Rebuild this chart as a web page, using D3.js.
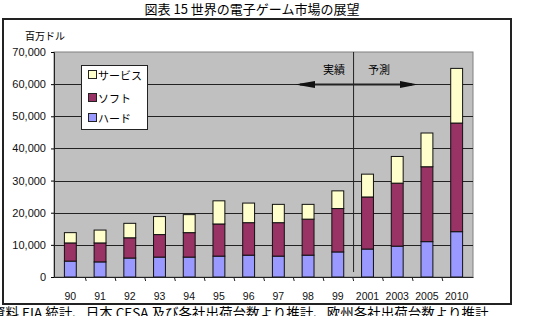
<!DOCTYPE html>
<html>
<head>
<meta charset="utf-8">
<script src="https://cdn.jsdelivr.net/npm/d3@7"></script>
<style>
  body { margin: 0; background: #fff; }
  svg { display: block; }
</style>
</head>
<body>
<script>
'use strict';

// data (million USD)
const years = ['90', '91', '92', '93', '94', '95', '96', '97', '98', '99', '2001', '2003', '2005', '2010'];
const hard = [4950, 4700, 5900, 6200, 6200, 6500, 6800, 6500, 6800, 7800, 8700, 9600, 11000, 14100];
const soft = [5650, 5900, 6300, 7000, 7600, 10000, 10100, 10400, 11200, 13500, 16200, 19600, 23300, 33800];
const service = [3200, 4000, 4500, 5600, 5600, 7200, 6100, 5700, 4600, 5500, 7100, 8300, 10500, 17000];
const yTicks = [0, 10000, 20000, 30000, 40000, 50000, 60000, 70000];
const seriesNames = {service: 'サービス', soft: 'ソフト', hard: 'ハード'};
const colors = {hard: '#9999ff', soft: '#993366', service: '#ffffcc'};

const W = 533, H = 316;
const plot = {left: 54, right: 473, top: 54, bottom: 277};
const jp = '"Noto Sans CJK JP", sans-serif';
const num = '"Liberation Sans", Arial, sans-serif';

const svg = d3.select('body').append('svg')
    .attr('width', W)
    .attr('height', H);

// title
svg.append('text')
    .attr('x', 252).attr('y', 14)
    .attr('text-anchor', 'middle')
    .style('font-family', jp).style('font-size', '13px')
    .text('図表 15 世界の電子ゲーム市場の展望');

// outer frame
svg.append('rect')
    .attr('x', 3).attr('y', 19)
    .attr('width', 508).attr('height', 285)
    .attr('fill', '#fff').attr('stroke', '#222').attr('stroke-width', 2);

const x = d3.scaleBand()
    .domain(years)
    .range([plot.left, plot.right])
    .paddingInner(0.6)
    .paddingOuter(0.35);

const y = d3.scaleLinear()
    .domain([0, 70000])
    .range([plot.bottom, plot.top - 2]);

// plot area
svg.append('rect')
    .attr('x', plot.left).attr('y', y(70000))
    .attr('width', plot.right - plot.left)
    .attr('height', plot.bottom - y(70000))
    .attr('fill', '#c0c0c0').attr('stroke', '#808080');

// grid lines
svg.append('g')
    .selectAll('line')
    .data(yTicks.slice(1, -1))
    .join('line')
    .attr('x1', plot.left).attr('x2', plot.right)
    .attr('y1', d => Math.round(y(d)) + 0.5)
    .attr('y2', d => Math.round(y(d)) + 0.5)
    .attr('stroke', '#222');

// y axis
const yAxis = svg.append('g')
    .attr('transform', `translate(${plot.left},0)`)
    .call(d3.axisLeft(y).tickValues(yTicks).tickSize(3).tickPadding(5)
        .tickFormat(d3.format(',')));
yAxis.select('.domain').attr('stroke', '#222');
yAxis.selectAll('text')
    .style('font-family', num).style('font-size', '11px').attr('fill', '#111');

svg.append('text')
    .attr('x', 25).attr('y', 40)
    .style('font-family', jp).style('font-size', '10px')
    .text('百万ドル');

// stacked bars
const rows = years.map((yr, i) => ({year: yr, hard: hard[i], soft: soft[i], service: service[i]}));
const stack = d3.stack().keys(['hard', 'soft', 'service'])(rows);

svg.append('g')
    .selectAll('g')
    .data(stack)
    .join('g')
    .attr('fill', s => colors[s.key])
    .selectAll('rect')
    .data(s => s)
    .join('rect')
    .attr('x', d => x(d.data.year))
    .attr('y', d => y(d[1]))
    .attr('width', x.bandwidth())
    .attr('height', d => y(d[0]) - y(d[1]))
    .attr('stroke', '#111').attr('stroke-width', 1);

// x axis
const xAxis = svg.append('g')
    .attr('transform', `translate(0,${plot.bottom})`)
    .call(d3.axisBottom(x).tickSize(0).tickPadding(16));
xAxis.select('.domain').attr('stroke', '#222');
xAxis.selectAll('text')
    .style('font-family', num).style('font-size', '10.5px').attr('fill', '#111');

// category separator ticks
const step = x.step();
svg.append('g')
    .selectAll('line')
    .data(years.slice(1))
    .join('line')
    .attr('x1', d => x(d) - (step - x.bandwidth()) / 2)
    .attr('x2', d => x(d) - (step - x.bandwidth()) / 2 + 1)
    .attr('y1', plot.bottom)
    .attr('y2', plot.bottom + 4)
    .attr('stroke', '#222');

// actual / forecast divider
const divX = x('2001') - 8;
svg.append('line')
    .attr('x1', divX).attr('x2', divX)
    .attr('y1', y(70000)).attr('y2', plot.bottom - 5)
    .attr('stroke', '#222');

const arrowY = Math.round(y(60000)) + 0.5;
svg.append('line')
    .attr('x1', 300).attr('x2', 412)
    .attr('y1', arrowY).attr('y2', arrowY)
    .attr('stroke', '#222').attr('stroke-width', 2);
svg.append('path')
    .attr('d', `M295,${arrowY}L315,${arrowY - 3.5}L315,${arrowY + 3.5}Z`)
    .attr('fill', '#111');
svg.append('path')
    .attr('d', `M418,${arrowY}L400,${arrowY - 3.5}L400,${arrowY + 3.5}Z`)
    .attr('fill', '#111');

svg.append('text')
    .attr('x', 334).attr('y', 74)
    .attr('text-anchor', 'middle')
    .style('font-family', jp).style('font-size', '11px')
    .text('実績');
svg.append('text')
    .attr('x', 379).attr('y', 74)
    .attr('text-anchor', 'middle')
    .style('font-family', jp).style('font-size', '11px')
    .text('予測');

// legend
const legend = svg.append('g');
legend.append('rect')
    .attr('x', 81.5).attr('y', 65.5)
    .attr('width', 66).attr('height', 64)
    .attr('fill', '#fff').attr('stroke', '#222');
const legendKeys = ['service', 'soft', 'hard'];
const legendY = [75, 98, 118];
const item = legend.selectAll('g.item')
    .data(legendKeys)
    .join('g')
    .attr('class', 'item')
    .attr('transform', (d, i) => `translate(88,${legendY[i]})`);
item.append('rect')
    .attr('x', 0.5).attr('y', -4.5)
    .attr('width', 8).attr('height', 8)
    .attr('fill', d => colors[d]).attr('stroke', '#222');
item.append('text')
    .attr('x', 10).attr('y', 4.5)
    .style('font-family', jp).style('font-size', '11px')
    .text(d => seriesNames[d]);

// source note (runs off the picture edge, as in the original)
svg.append('text')
    .attr('x', -8).attr('y', 318)
    .style('font-family', jp).style('font-size', '13.5px')
    .text('資料 EIA 統計、日本 CESA 及び各社出荷台数より推計、欧州各社出荷台数より推計');
</script>
</body>
</html>
